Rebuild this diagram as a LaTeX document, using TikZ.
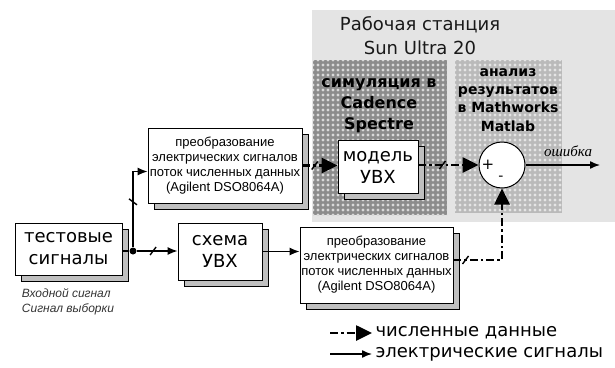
\documentclass[tikz,border=0pt]{standalone}
\usepackage{fontspec}
\setmainfont{DejaVu Sans}
\newfontfamily\convfont{Liberation Sans}
\newfontfamily\errfont{Liberation Serif}
\usetikzlibrary{arrows.meta,shadows}

\definecolor{stationgray}{HTML}{E4E4E4}

\tikzset{
  block/.style={draw, fill=white, line width=0.8pt, align=center, inner sep=0pt,
    copy shadow={shadow xshift=6pt, shadow yshift=-6pt, fill=black!25,
      draw=black, line width=0.8pt}},
  bigtext/.style={font=\fontsize{18}{22}\selectfont},
  convtext/.style={font=\convfont\fontsize{13}{15}\selectfont},
  sig/.style={line width=1.4pt, -{Latex[length=10pt,width=8pt]}},
  data/.style={line width=2.6pt, dash pattern=on 8pt off 3pt on 2.5pt off 3pt,
    -{Triangle[length=16pt,width=15pt]}},
}

% short slash across a bus line
\newcommand\busmark[1]{\draw[line width=1.4pt,solid] ([shift={(-3,4)}]#1) -- ([shift={(3,-4)}]#1);}
\newcommand\busmarkv[1]{\draw[line width=1.4pt,solid] ([shift={(-4,-3)}]#1) -- ([shift={(4,3)}]#1);}

\begin{document}
\begin{tikzpicture}[x=1pt,y=-1pt]
\useasboundingbox (0,0) rectangle (615,367);

% workstation area
\fill[stationgray] (312,10) rectangle (615,222);
\node[font=\fontsize{18}{24}\selectfont, align=center, text=black!90] (station)
  at (420,36) {Рабочая станция\\Sun Ultra 20};

% dotted panels
\begin{scope}
  \clip (313,60) rectangle (447,215);
  \fill[black!45] (313,60) rectangle (447,215);
  \foreach \i in {0,...,27}
    {\foreach \j in {0,...,31}
      {\fill[black!15] ({313+\i*5},{60+\j*5}) circle (1.6pt);}}
\end{scope}
\begin{scope}
  \clip (455,60) rectangle (562,213);
  \fill[black!27] (455,60) rectangle (562,213);
  \foreach \i in {0,...,22}
    {\foreach \j in {0,...,31}
      {\fill[black!10] ({455+\i*5},{60+\j*5}) circle (1.6pt);}}
\end{scope}
\node[font=\bfseries\fontsize{16}{21}\selectfont, align=center] (sim)
  at (379,106) {симуляция в\\Cadence\\Spectre};
\node[font=\bfseries\fontsize{14}{18.3}\selectfont, align=center] (analysis)
  at (508,100) {анализ\\результатов\\в Mathworks\\Matlab};

% blocks
\node[block, bigtext, minimum width=107pt, minimum height=52pt] (test)
  at (68.5,249) {тестовые\\сигналы};
\node[block, bigtext, minimum width=84pt, minimum height=57pt] (sampler)
  at (220,251.5) {схема\\УВХ};
\node[block, convtext, minimum width=154pt, minimum height=75pt] (convtop)
  at (225,165.5) {преобразование\\электрических сигналов\\поток численных данных\\(Agilent DSO8064A)};
\node[block, convtext, minimum width=153pt, minimum height=76pt] (convbot)
  at (376.5,265) {преобразование\\электрических сигналов\\поток численных данных\\(Agilent DSO8064A)};
\node[block, bigtext, minimum width=80pt, minimum height=53pt] (model)
  at (378,167) {модель\\УВХ};
\node[circle, draw, fill=white, line width=1pt, minimum size=46pt] (sum) at (502,165) {};
\node[font=\fontsize{15}{15}\selectfont] (plus) at (488,165) {+};
\node[font=\fontsize{14}{14}\selectfont] (minus) at (501,178) {-};

\node[font=\convfont\itshape\fontsize{12}{15}\selectfont, align=left, text=black!80] (caption)
  at (68,302) {Входной сигнал\\Сигнал выборки};

% electrical signals
\node[circle, fill, inner sep=0pt, minimum size=7pt] (J) at (133,251) {};
\draw[line width=1.4pt] (test.east |- J) -- (J);
\draw[sig] (J) -- coordinate[pos=0.4] (s1) (J -| sampler.west);
\busmark{s1}
\draw[sig] (J) -- coordinate[pos=0.6] (s2) (J |- 0,171.5) -- ([yshift=-6pt]convtop.west);
\busmarkv{s2}
\draw[sig] (sampler.east) -- (sampler.east -| convbot.west);

% numerical data
\draw[data] (convtop.east) -- coordinate[pos=0.35] (s3) (convtop.east -| model.west);
\busmark{s3}
\draw[data] (model.east |- sum) -- coordinate[pos=0.4] (s4) (sum.west);
\busmark{s4}
\draw[data] ([yshift=5pt]convbot.east) -- coordinate[pos=0.25] (s5)
  ([yshift=5pt]convbot.east -| sum.south) -- (sum.south);
\busmark{s5}

% output
\coordinate (errout) at (600,165);
\draw[sig] (sum.east) -- (errout);
\node[font=\errfont\itshape\fontsize{15}{15}\selectfont] (errlabel) at (568,151) {ошибка};

% legend
\node[font=\fontsize{18}{18}\selectfont, anchor=west] (legdata) at (372,333) {численные данные};
\node[font=\fontsize{18}{18}\selectfont, anchor=west] (legsig) at (372,354) {электрические сигналы};
\coordinate (legdataA) at (330,333);
\coordinate (legsigA) at (330,354);
\draw[data] (legdataA) -- (legdata.west);
\draw[sig] (legsigA) -- (legsig.west);
\end{tikzpicture}
\end{document}
